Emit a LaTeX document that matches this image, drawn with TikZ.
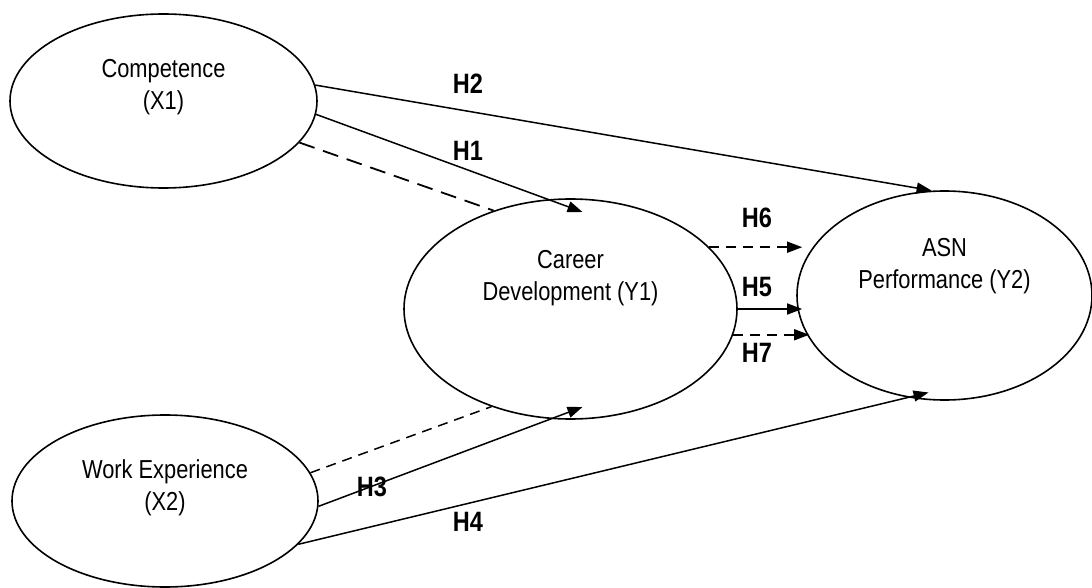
\documentclass[tikz,border=0pt]{standalone}
\usepackage{fontspec}
\setmainfont{Liberation Sans}[FakeStretch=0.84]
\usetikzlibrary{arrows.meta,shapes.geometric}

\tikzset{
  construct/.style={ellipse, draw, line width=1.6pt},
  ctext/.style={align=center, font=\fontsize{26}{32}\selectfont},
  hyp/.style={font=\fontsize{28}{30}\selectfont\bfseries, inner sep=0pt},
  link/.style={->, line width=1.5pt},
  dlink/.style={->, line width=1.5pt, dash pattern=on 10pt off 7pt},
}

\begin{document}
\begin{tikzpicture}[x=1pt, y=-1pt, >={Triangle[length=15pt,width=11pt]}]
            \useasboundingbox (0,0) rectangle (1092,588);

            \node[construct, minimum width=307pt, minimum height=174pt] (comp) at (163.5,101) {};
            \node[construct, minimum width=306pt, minimum height=172pt] (work) at (165,501) {};
            \node[construct, minimum width=333pt, minimum height=220pt] (career) at (570.5,309) {};
            \node[construct, minimum width=295pt, minimum height=209pt] (asn) at (944.5,295.5) {};

            \node[ctext] (compt) at ([yshift=14pt]comp.center) {Competence\\(X1)};
            \node[ctext] (workt) at ([yshift=13pt]work.center) {Work Experience\\(X2)};
            \node[ctext] (careert) at ([yshift=31pt]career.center) {Career\\Development (Y1)};
            \node[ctext] (asnt) at ([yshift=29pt]asn.center) {ASN\\Performance (Y2)};

            % competence
            \draw[link] (comp.6) -- (asn.97);
            \draw[link] (comp.-5) -- ([xshift=12pt,yshift=97pt]career.center);
            \draw[line width=1.8pt, dash pattern=on 16pt off 9pt] (comp.-17) -- (career.128);

            % work experience
            \draw[line width=1.5pt, dash pattern=on 10pt off 7pt] (work.11) -- (career.231);
            \draw[link] (work.-2) -- ([xshift=12pt,yshift=-98pt]career.center);
            \draw[link] (work.-18) -- ([xshift=-16pt,yshift=-97pt]asn.center);

            % career development
            \draw[dlink, shorten >=-6pt] (career.24) -- (career.24 -| asn.west);
            \draw[link, shorten >=-6pt] (career.east) -- (career.east -| asn.west);
            \draw[dlink, shorten >=-13pt] (career.-9) -- (career.-9 -| asn.west);

            \node[hyp] (h2) at (468,84) {H2};
            \node[hyp] (h1) at (468,151) {H1};
            \node[hyp] (h6) at (757,218) {H6};
            \node[hyp] (h5) at (757,287) {H5};
            \node[hyp] (h7) at (757,353) {H7};
            \node[hyp] (h3) at (372,487) {H3};
            \node[hyp] (h4) at (468,522) {H4};
\end{tikzpicture}
\end{document}
